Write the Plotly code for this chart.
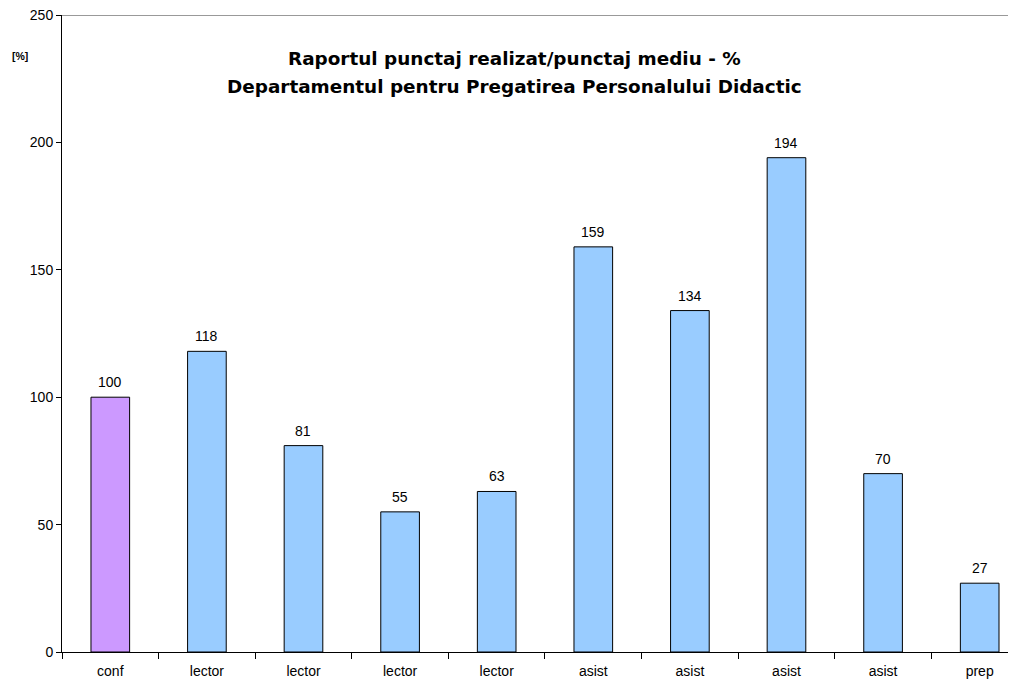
import plotly.graph_objects as go

categories = ["conf", "lector", "lector", "lector", "lector", "asist", "asist", "asist", "asist", "prep"]
values = [100, 118, 81, 55, 63, 159, 134, 194, 70, 27]
colors = ["#CC99FF"] + ["#99CCFF"] * 9
y_ticks = [0, 50, 100, 150, 200, 250]
title_lines = ["Raportul punctaj realizat/punctaj mediu - %",
               "Departamentul pentru Pregatirea Personalului Didactic"]

x = list(range(len(categories)))
FONT = "Liberation Sans, Arial, sans-serif"
TFONT = "DejaVu Sans, Liberation Sans, sans-serif"

fig = go.Figure(go.Bar(
    x=x, y=values, width=0.40,
    marker=dict(color=colors, line=dict(color="black", width=1)),
    cliponaxis=False,
))

annotations = [
    dict(x=xi, y=v, xref="x", yref="y", text=str(v), showarrow=False,
         yanchor="bottom", xanchor="center", yshift=5,
         font=dict(size=14, family=FONT, color="black"))
    for xi, v in zip(x, values)
]
annotations += [
    dict(text="<b>" + title_lines[0] + "</b>", xref="paper", yref="paper",
         x=0.474, y=0.931, xanchor="center", yanchor="middle",
         showarrow=False, font=dict(size=18.4, family=TFONT)),
    dict(text="<b>" + title_lines[1] + "</b>", xref="paper", yref="paper",
         x=0.474, y=0.887, xanchor="center", yanchor="middle",
         showarrow=False, font=dict(size=18.4, family=TFONT)),
    dict(text="<b>[%]</b>", xref="paper", yref="paper",
         x=-0.044, y=0.9356, xanchor="center", yanchor="middle",
         showarrow=False, font=dict(size=10.5, family=FONT)),
]

fig.update_layout(
    width=1008, height=675,
    margin=dict(l=54, r=0, t=7, b=31),
    paper_bgcolor="white", plot_bgcolor="white",
    showlegend=False,
    font=dict(family=FONT, color="black"),
    xaxis=dict(
        range=[-0.5, 9.376], tickmode="array", tickvals=x, ticktext=categories,
        ticks="", showgrid=False, zeroline=False,
        showline=True, linecolor="black", linewidth=1,
        tickfont=dict(size=14, family=FONT), ticklabelstandoff=6,
        minor=dict(tickmode="array", tickvals=[i - 0.5 for i in range(11)],
                   ticks="outside", ticklen=6, tickcolor="black", tickwidth=1),
    ),
    yaxis=dict(
        range=[0, 250], tickmode="array", tickvals=y_ticks,
        ticks="outside", ticklen=5, tickcolor="black",
        showgrid=False, zeroline=False,
        showline=True, linecolor="black", linewidth=1,
        tickfont=dict(size=14, family=FONT), ticklabeloverflow="allow",
    ),
    shapes=[dict(type="line", xref="paper", yref="y", x0=0, x1=1, y0=250, y1=250,
                 line=dict(color="#999999", width=2))],
    annotations=annotations,
)

fig.write_html("out.html")
